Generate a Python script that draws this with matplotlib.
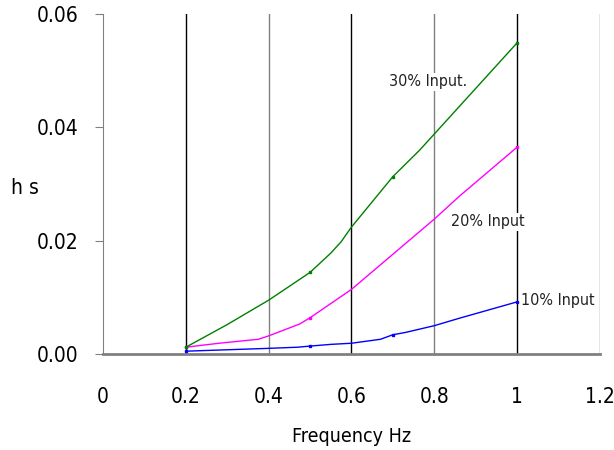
import matplotlib.pyplot as plt

plt.rcParams["font.family"] = ["DejaVu Sans"]
plt.rcParams["font.stretch"] = "condensed"

# curve samples
freq_10 = [0.2, 0.4, 0.47, 0.5, 0.55, 0.6, 0.67, 0.7, 0.73, 0.8, 0.86, 1.0]
input_10 = [0.0005, 0.0010, 0.0012, 0.0014, 0.0017, 0.0019, 0.0026, 0.0034, 0.0038, 0.0050, 0.0063, 0.0092]
marks_10 = [0, 3, 7, 11]

freq_20 = [0.2, 0.28, 0.375, 0.4, 0.475, 0.5, 0.6, 0.8, 0.86, 1.0]
input_20 = [0.0012, 0.0019, 0.0026, 0.0032, 0.0053, 0.0064, 0.0114, 0.0238, 0.0278, 0.0365]
marks_20 = [0, 5, 9]

freq_30 = [0.2, 0.3, 0.4, 0.5, 0.55, 0.575, 0.6, 0.7, 0.765, 1.0]
input_30 = [0.0012, 0.0052, 0.0095, 0.0144, 0.0178, 0.0198, 0.0224, 0.0313, 0.0360, 0.0549]
marks_30 = [0, 3, 7, 9]

labels = ["10% Input", "20% Input", "30% Input."]
label_pos = [(1.01, 0.0095), (0.84, 0.0233), (0.69, 0.0480)]
colors = ["#0000ff", "#ff00ff", "#008000"]

fig = plt.figure(figsize=(6.14, 4.5), dpi=100)
ax = fig.add_axes([0.1678, 0.2133, 0.8092, 0.7556])

for vx, c in zip([0.2, 0.4, 0.6, 0.8, 1.0, 1.2], ["black", "#808080"] * 3):
    ax.axvline(vx, color=c, lw=1.0, zorder=1)

series = [(freq_10, input_10, marks_10), (freq_20, input_20, marks_20), (freq_30, input_30, marks_30)]
for (xs, ys, mk), c in zip(series, colors):
    ax.plot(xs, ys, color=c, lw=1.0, marker="s", ms=2, markevery=mk, zorder=3)

for lab, (lx, ly) in zip(labels, label_pos):
    ax.text(lx, ly, lab, fontsize=11.5, va="center", ha="left", color="#222222",
            bbox=dict(facecolor="white", edgecolor="none", pad=1), zorder=2)

ax.set_xlim(0, 1.2)
ax.set_ylim(0, 0.06)
ax.set_xticks([0, 0.2, 0.4, 0.6, 0.8, 1.0, 1.2])
ax.set_xticklabels(["0", "0.2", "0.4", "0.6", "0.8", "1", "1.2"])
ax.set_yticks([0, 0.02, 0.04, 0.06])
ax.set_yticklabels(["0.00", "0.02", "0.04", "0.06"])
ax.tick_params(axis="x", length=0, pad=24, labelsize=15)
ax.tick_params(axis="y", direction="out", length=6, color="#808080", pad=12, labelsize=15)

for s in ["top", "right"]:
    ax.spines[s].set_visible(False)
ax.spines["left"].set_color("#808080")
ax.spines["bottom"].set_color("#808080")
ax.spines["bottom"].set_linewidth(2)

ax.set_xlabel("Frequency Hz", fontsize=14, labelpad=14)
fig.text(0.018, 0.582, "h s", fontsize=15, va="center", ha="left")

fig.savefig("out.png", dpi=100)
